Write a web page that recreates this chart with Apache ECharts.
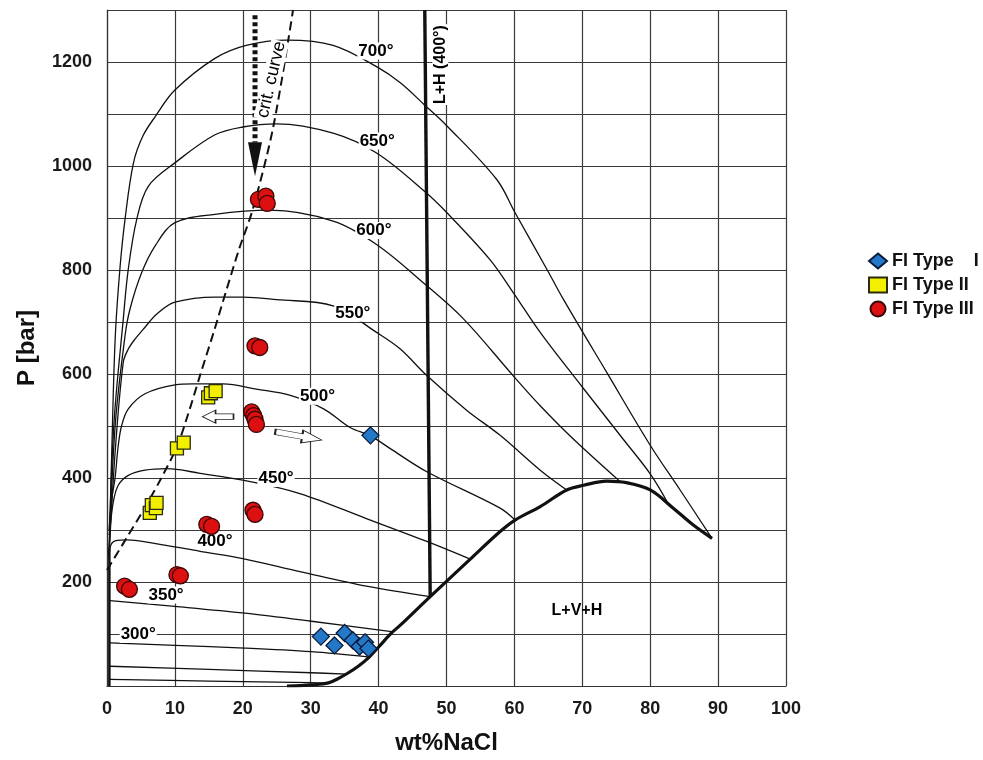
<!DOCTYPE html>
<html><head><meta charset="utf-8">
<script src="https://cdn.jsdelivr.net/npm/echarts/dist/echarts.min.js"></script>
<style>html,body{margin:0;padding:0;background:#fff}#c{width:983px;height:760px}</style>
</head><body><div id="c"></div>
<script>
const FONT = "'Liberation Sans', Arial, Helvetica, sans-serif";

// ---- fluid inclusion data (wt% NaCl, P bar) ----
const typeI = [[31.5,95],[33.5,78],[35,102],[36.2,88],[37.2,76],[38,84],[38.5,72],[38.8,482]];
const typeII = [[14.9,555],[15.3,563],[16.0,567],[10.3,457],[11.3,468],[6.3,333],[6.6,348],[7.2,342],[7.3,352]];
const typeIII = [[22.3,936],[23.4,942],[23.6,928],[21.8,654],[22.5,651],[21.3,527],[21.6,520],[21.8,513],[22.0,503],[21.5,338],[21.8,330],[14.7,311],[15.4,307],[10.3,214],[10.8,212],[2.6,192],[3.3,186]];

// ---- isotherms ----
const iso700 = [[0.3,250],[0.7,450],[1.2,667],[1.9,802],[2.65,897],[3.9,1006],[5.3,1058],[7.1,1095],[10,1146],[15.9,1207],[20.5,1232],[26.5,1242],[33.3,1232],[39.7,1191],[43.2,1160],[46.8,1117],[50,1078],[57.4,974],[60.1,910],[64.8,801],[67.2,744],[73.6,603],[80,463],[84.5,375],[89.1,284]];
const iso650 = [[0.3,250],[1.0,500],[2.4,706],[3.14,802],[4.37,897],[6.08,961],[10,1006],[15.9,1060],[20,1075],[25,1081],[33.3,1063],[39.7,1025],[46.8,951],[50,911],[56.4,820],[59.8,757],[63.8,680],[70,575],[76,475],[80,408],[82.6,352]];
const iso600 = [[0.3,250],[1.2,500],[2.65,673],[3.39,725],[5.11,795],[7.07,846],[10,891],[15.9,907],[24,915],[33.3,894],[39.7,849],[46.8,773],[52.5,706],[59.8,597],[63.8,539],[68.6,476],[75.5,394]];
const iso550 = [[0.3,250],[1.2,450],[2.4,623],[3.14,648],[4.12,667],[5.6,690],[7.3,715],[10,738],[16,748],[20,748],[25,743],[33.3,731],[39.7,680],[43.2,648],[47.1,597],[53,530],[57.9,482],[63.8,415],[67.7,377]];
const iso500 = [[0.3,300],[0.7,360],[1.18,399],[1.66,463],[2.16,501],[3.14,533],[5.6,562],[10,579],[12.7,581],[17.1,581],[22,571],[27,559],[31.9,533],[35.8,497],[38.8,481],[42,454],[47.1,412],[57.9,342],[60.1,319]];
const iso450 = [[0.3,290],[0.44,303],[0.93,354],[1.66,386],[3.14,405],[5.6,415],[8.8,418],[13.7,409],[21.1,393],[28.4,370],[38.2,322],[47.1,278],[53.5,244]];
const iso400 = [[0.3,245],[0.6,272],[1.5,280],[2.9,281],[8,272],[13.7,259],[20,245],[28.4,220],[38.2,192],[47.6,172]];
const iso350 = [[0.44,164],[10,153],[20.3,140],[30.1,124.5],[42.2,104]];
const iso300 = [[0.44,83],[10,78],[20.3,73],[30.1,66],[38.4,56]];
const iso250 = [[0.44,38],[15,32],[30.1,25.5],[35.2,23]];
const iso200 = [[0.44,12.7],[15,9.5],[30.1,6.3],[32.3,5.5]];

// ---- phase boundaries ----
const halite = [[26.5,0],[28.5,0.8],[30,2],[32.6,6],[34,14],[35.5,25],[37,38],[38.5,54],[40,75],[41.9,102],[43.2,117],[47.6,172],[53.5,244],[57.9,297],[60.1,319],[63.8,345],[67.7,377],[70.2,386],[73.6,394],[76.5,391],[80,377],[83.4,342],[86.3,310],[89.1,284]];
const critCurve = [[0,223],[2.9,285],[5.8,348],[8,400],[10.3,460],[12,525],[13.7,597],[15.7,680],[17.6,762],[19.5,842],[21.5,918],[24.5,1076],[27.4,1300]];
const lhLine = [[46.8,1300],[47.6,172]];
const waterAxis = [[0.35,265],[0.35,0]];
const critArrowShaft = [[21.8,1290],[21.8,1045]];
const critArrowHead = [[21.8,1013]];
const flowArrows = [[16.35,518],[28.2,481]];

// ---- annotations ----
const isoLabelText = ['700°','650°','600°','550°','500°','450°','400°','350°','300°'];
const isoLabelAt = [[39.6,1221],[39.8,1048],[39.3,876],[36.2,717],[31,557],[24.9,399],[15.9,278],[8.7,175],[4.6,99]];
const regionLabelText = ['L+V+H'];
const regionLabelAt = [[69.2,145]];
const yTickLabels = [200,400,600,800,1000,1200];
const legendNames = ['FI Type    I','FI Type II','FI Type III'];

function curve(data, width, opts) {
  return Object.assign({type:'line', data, symbol:'none', smooth:0.35, silent:true,
    animation:false, z:3, lineStyle:{color:'#111', width}}, opts || {});
}

const isoSeries = [iso700,iso650,iso600,iso550,iso500,iso450,iso400,iso350,iso300,iso250,iso200].map(d => curve(d, 1.3));

const arrowPath = 'path://M0,30 L58,30 L58,3 L100,50 L58,97 L58,70 L0,70 Z';

const labelBase = {show:true, position:'inside', formatter:'{b}', fontFamily:FONT, fontWeight:'bold',
  color:'#000', opacity:1, textBorderWidth:0, textShadowBlur:0};
const anchorStyle = {color:'#fff', opacity:1};

const option = {
  backgroundColor:'#fff',
  animation:false,
  grid:{left:107, right:197, top:10, bottom:72, containLabel:false},
  xAxis:{type:'value', min:0, max:100, interval:10,
    axisLine:{show:true, onZero:false, lineStyle:{color:'#333', width:1.2}},
    axisTick:{show:false},
    splitLine:{show:true, showMinLine:true, showMaxLine:true, lineStyle:{color:'#3a3a3a', width:1.2}},
    axisLabel:{fontFamily:FONT, fontSize:18, fontWeight:'bold', color:'#1a1a1a', margin:14},
    name:'wt%NaCl', nameLocation:'middle', nameGap:45,
    nameTextStyle:{fontFamily:FONT, fontSize:24, fontWeight:'bold', color:'#111'}},
  yAxis:{type:'value', min:0, max:1300, interval:100,
    axisLine:{show:true, onZero:false, lineStyle:{color:'#333', width:1.2}},
    axisTick:{show:false},
    splitLine:{show:true, showMinLine:true, showMaxLine:true, lineStyle:{color:'#3a3a3a', width:1.2}},
    axisLabel:{fontFamily:FONT, fontSize:18, fontWeight:'bold', color:'#1a1a1a', margin:15,
      formatter: v => yTickLabels.indexOf(v) >= 0 ? String(v) : ''},
    name:'P [bar]', nameLocation:'middle', nameGap:68,
    nameTextStyle:{fontFamily:FONT, fontSize:24, fontWeight:'bold', color:'#111'}},
  legend:{data:legendNames, orient:'vertical', left:863, top:247, itemGap:6, itemWidth:18, itemHeight:15,
    textStyle:{fontFamily:FONT, fontSize:18, fontWeight:'bold', color:'#111'}},
  series:[
    ...isoSeries,
    curve(halite, 3.2, {z:4}),
    curve(critCurve, 2, {smooth:0.3, lineStyle:{color:'#111', width:2, type:[9,5]}}),
    curve(lhLine, 3.4, {smooth:false, z:4}),
    curve(waterAxis, 2.5, {smooth:false}),
    curve(critArrowShaft, 5, {smooth:false, lineStyle:{color:'#111', width:5, type:[4,3], cap:'butt'}}),
    {type:'scatter', data:critArrowHead, symbol:'triangle', symbolRotate:180, symbolSize:[14,34], silent:true, z:6,
      itemStyle:{color:'#111', opacity:1}},
    {type:'scatter', silent:true, z:6, symbol:arrowPath,
      data:[{value:flowArrows[0], symbolSize:[31,13], symbolRotate:180},
            {value:flowArrows[1], symbolSize:[47,13], symbolRotate:-10}],
      itemStyle:{color:'#fff', borderColor:'#222', borderWidth:1.1, opacity:1}},
    {type:'scatter', silent:true, z:8, symbolSize:0.5, itemStyle:anchorStyle,
      data: isoLabelText.map((t,i)=>({value:isoLabelAt[i], name:t})),
      label:Object.assign({}, labelBase, {fontSize:17, backgroundColor:'#fff', padding:[0,1]})},
    {type:'scatter', silent:true, z:8, symbolSize:0.5, itemStyle:anchorStyle,
      data: regionLabelText.map((t,i)=>({value:regionLabelAt[i], name:t})),
      label:Object.assign({}, labelBase, {fontSize:16})},
    {type:'scatter', silent:true, z:8, symbolSize:0.5, itemStyle:anchorStyle,
      data:[{value:[49.1,1195], name:'L+H (400°)', label:{rotate:90}},
            {value:[24.2,1166], name:'crit. curve', label:{rotate:77, fontWeight:'normal', fontSize:18}}],
      label:Object.assign({}, labelBase, {fontSize:16, backgroundColor:'#fff', padding:[0,1]})},
    {type:'scatter', name:legendNames[0], data:typeI, symbol:'diamond', symbolSize:17, z:10,
      itemStyle:{color:'#2478c8', borderColor:'#0b1a3a', borderWidth:1.3, opacity:1}},
    {type:'scatter', name:legendNames[1], data:typeII, symbol:'rect', symbolSize:13, z:10,
      itemStyle:{color:'#f2f000', borderColor:'#2a2a10', borderWidth:1.3, opacity:1}},
    {type:'scatter', name:legendNames[2], data:typeIII, symbol:'circle', symbolSize:16, z:10,
      itemStyle:{color:'#dc1010', borderColor:'#3a0606', borderWidth:1.3, opacity:1}}
  ]
};
const chart = echarts.init(document.getElementById('c'), null, {renderer:'canvas'});
chart.setOption(option);
</script></body></html>
